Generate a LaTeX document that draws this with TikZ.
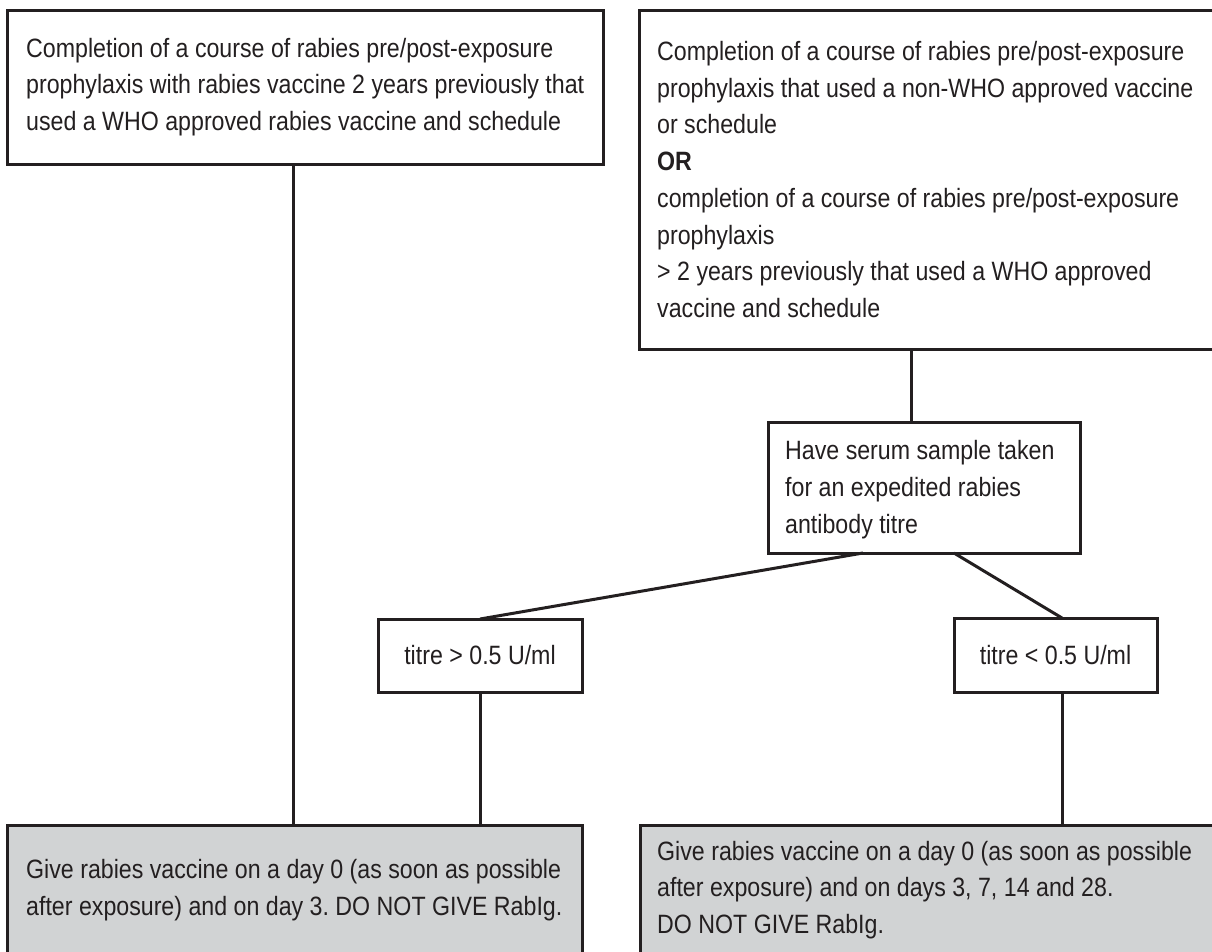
\documentclass[tikz,border=0pt]{standalone}
\usepackage{fontspec}
\setmainfont{Liberation Sans}[FakeStretch=0.875]
\definecolor{ink}{HTML}{231F20}
\definecolor{shade}{HTML}{D1D3D4}
\frenchspacing
\begin{document}
\begin{tikzpicture}[x=1pt,y=-1pt,
  txt/.style={font=\fontsize{26.5}{36.7}\selectfont\frenchspacing, text=ink},
  box/.style={draw=ink, line width=3pt, inner sep=0pt, outer sep=0pt,
    anchor=north west, fill=white},
  graybox/.style={box, fill=shade},
  label/.style={txt, anchor=west, align=left, inner sep=0pt},
  smallbox/.style={txt, draw=ink, line width=3pt, inner sep=0pt, outer sep=0pt,
    anchor=north west, align=center, fill=white},
  conn/.style={draw=ink, line width=3pt}
]
\useasboundingbox (0,0) rectangle (1212,951);

% boxes
\node[box, minimum width=596pt, minimum height=154pt] (b1) at (7,10) {};
\node[box, minimum width=576pt, minimum height=339pt] (b2) at (639,10) {};
\node[box, minimum width=312pt, minimum height=131pt] (b3) at (768,422) {};
\node[smallbox, minimum width=204pt, minimum height=73pt] (t1) at (378,619)
  {titre > 0.5 U/ml};
\node[smallbox, minimum width=203pt, minimum height=74pt] (t2) at (954,618)
  {titre < 0.5 U/ml};
\node[graybox, minimum width=575pt, minimum height=130pt] (bl) at (7,825) {};
\node[graybox, minimum width=575pt, minimum height=130pt] (br) at (640,825) {};

% texts
\node[label] (b1t) at ([xshift=19pt]b1.west)
  {Completion of a course of rabies pre/post-exposure\\
   prophylaxis with rabies vaccine 2 years previously that\\
   used a WHO approved rabies vaccine and schedule};

\node[label] (b2t) at ([xshift=18pt]b2.west)
  {Completion of a course of rabies pre/post-exposure\\
   prophylaxis that used a non-WHO approved vaccine\\
   or schedule\\
   \textbf{OR}\\
   completion of a course of rabies pre/post-exposure\\
   prophylaxis\\
   > 2 years previously that used a WHO approved\\
   vaccine and schedule};

\node[label] (b3t) at ([xshift=17pt,yshift=-2pt]b3.west)
  {Have serum sample taken\\
   for an expedited rabies\\
   antibody titre};

\node[label] (blt) at ([xshift=19pt]bl.west)
  {Give rabies vaccine on a day 0 (as soon as possible\\
   after exposure) and on day 3. DO NOT GIVE RabIg.};

\node[label] (brt) at ([xshift=17pt]br.west)
  {Give rabies vaccine on a day 0 (as soon as possible\\
   after exposure) and on days 3, 7, 14 and 28.\\
   DO NOT GIVE RabIg.};

% connectors
\coordinate (xL) at (293,0);
\coordinate (xM) at (911,0);
\coordinate (xA) at (480,0);
\coordinate (xB) at (1062,0);
\coordinate (d1) at (863,0);
\coordinate (d2) at (954,0);

\draw[conn] (b1.south -| xL) -- (bl.north -| xL);
\draw[conn] (b2.south -| xM) -- (b3.north -| xM);
\draw[conn] (b3.south -| d1) -- (t1.north -| xA);
\draw[conn] (b3.south -| d2) -- (t2.north -| xB);
\draw[conn] (t1.south -| xA) -- (bl.north -| xA);
\draw[conn] (t2.south -| xB) -- (br.north -| xB);
\end{tikzpicture}
\end{document}
